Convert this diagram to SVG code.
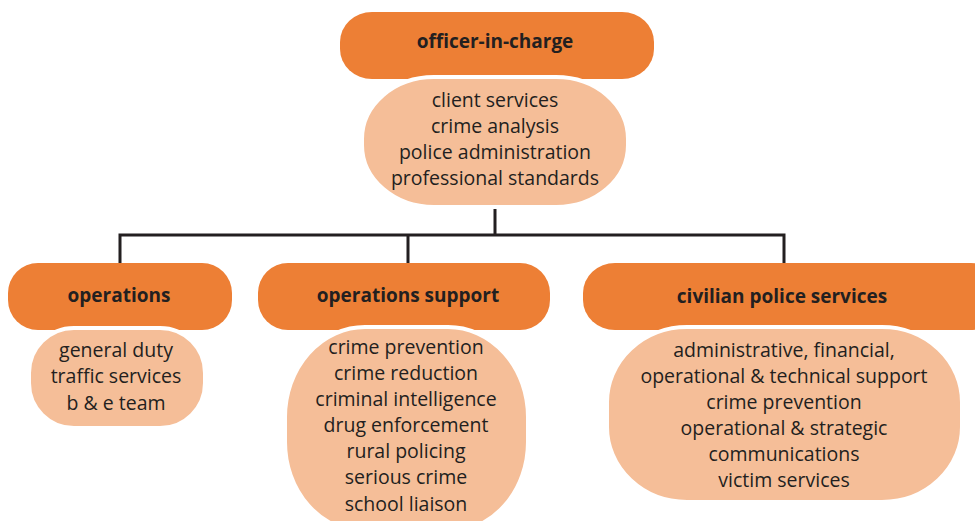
<svg xmlns="http://www.w3.org/2000/svg" width="975" height="521" viewBox="0 0 975 521">
<style>
.hd{fill:#ED7F35}
.bx{fill:#F5BE98;stroke:#fff;stroke-width:4}
.ht{font-family:"Open Sans","Liberation Sans",sans-serif;font-weight:bold;font-size:19px;fill:#231F20;text-anchor:middle}
.bt{font-family:"Open Sans","Liberation Sans",sans-serif;font-size:19.5px;fill:#231F20;text-anchor:middle}
.cn{fill:none;stroke:#231F20;stroke-width:3}
</style>
<rect width="975" height="521" fill="#fff"/>
<g id="connectors">
<path class="cn" d="M495,200 V235 M120,235 H784 M120,233.5 V265 M408,233.5 V265 M784,233.5 V265"/>
</g>
<g id="officer-in-charge">
<rect class="hd" x="340" y="12" width="314" height="67" rx="32" ry="30"/>
<rect class="bx" x="362" y="77" width="266" height="130" rx="72" ry="62"/>
<text class="ht" x="495" y="48">officer-in-charge</text>
<text class="bt" x="495" y="107">client services</text>
<text class="bt" x="495" y="133">crime analysis</text>
<text class="bt" x="495" y="159">police administration</text>
<text class="bt" x="495" y="185">professional standards</text>
</g>
<g id="operations">
<rect class="hd" x="8" y="263" width="224" height="67" rx="30" ry="30"/>
<rect class="bx" x="29" y="328" width="176" height="100" rx="45" ry="45"/>
<text class="ht" x="119" y="302">operations</text>
<text class="bt" x="116" y="357">general duty</text>
<text class="bt" x="116" y="383">traffic services</text>
<text class="bt" x="116" y="410">b &amp; e team</text>
</g>
<g id="operations-support">
<rect class="hd" x="258" y="263" width="292" height="67" rx="30" ry="30"/>
<rect class="bx" x="285" y="327" width="243" height="205" rx="80" ry="90"/>
<text class="ht" x="408" y="302">operations support</text>
<text class="bt" x="406" y="354">crime prevention</text>
<text class="bt" x="406" y="380">crime reduction</text>
<text class="bt" x="406" y="406">criminal intelligence</text>
<text class="bt" x="406" y="432">drug enforcement</text>
<text class="bt" x="406" y="458">rural policing</text>
<text class="bt" x="406" y="484">serious crime</text>
<text class="bt" x="406" y="511">school liaison</text>
</g>
<g id="civilian-police-services">
<rect class="hd" x="583" y="263" width="420" height="67" rx="32" ry="30"/>
<rect class="bx" x="607" y="327" width="355" height="175" rx="80" ry="75"/>
<text class="ht" x="782" y="303">civilian police services</text>
<text class="bt" x="784" y="357">administrative, financial,</text>
<text class="bt" x="784" y="383">operational &amp; technical support</text>
<text class="bt" x="784" y="409">crime prevention</text>
<text class="bt" x="784" y="435">operational &amp; strategic</text>
<text class="bt" x="784" y="461">communications</text>
<text class="bt" x="784" y="487">victim services</text>
</g>
</svg>
